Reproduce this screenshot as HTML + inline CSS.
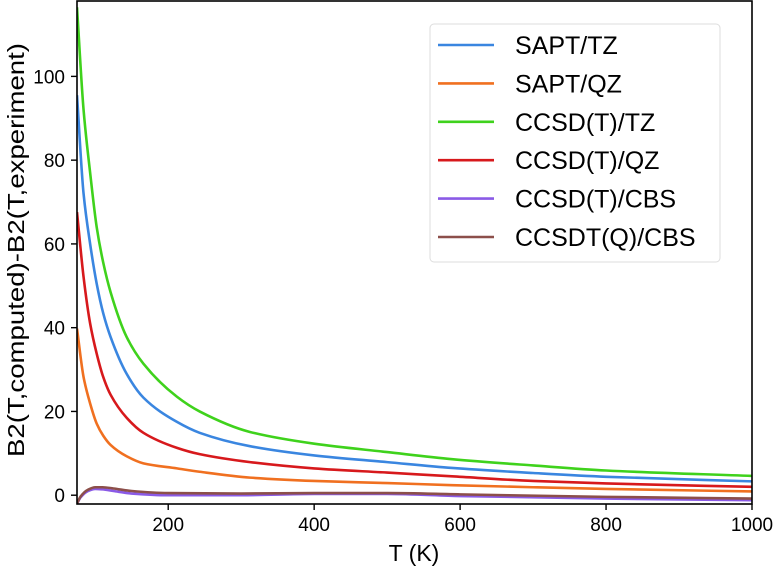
<!DOCTYPE html>
<html><head><meta charset="utf-8"><style>
body{margin:0;background:#fff;}
svg{display:block;font-family:"Liberation Sans",Arial,sans-serif;}
</style></head><body>
<svg id="chart" width="773" height="567" viewBox="0 0 773 567" xmlns="http://www.w3.org/2000/svg">
<rect width="773" height="567" fill="#fff"/>
<g id="plot"></g>
<g id="axes"></g>
<g id="legend"></g>
</svg>
<script>
const temps = [75, 84, 93, 102, 111, 121, 143, 166, 212, 243, 312, 400, 500, 589, 700, 800, 1000];
const ccsdt_tz = [116.5, 92, 77, 64, 55.5, 48.5, 37.8, 31.4, 23.5, 20.0, 15.1, 12.3, 10.3, 8.6, 7.1, 5.9, 4.6];
const sapt_tz = [95.5, 72, 60, 50.5, 43.4, 37.8, 29.0, 23.3, 17.5, 14.9, 11.7, 9.5, 7.9, 6.5, 5.3, 4.4, 3.3];
const ccsdt_qz = [67.6, 52.1, 41.0, 33.8, 28.2, 24.0, 18.5, 14.9, 11.3, 9.8, 7.9, 6.4, 5.4, 4.5, 3.4, 2.8, 2.0];
const sapt_qz = [39.8, 28.2, 21.9, 17.1, 14.2, 12.0, 9.3, 7.6, 6.4, 5.6, 4.2, 3.4, 2.9, 2.4, 1.9, 1.5, 0.9];
const cbsTemps = [75, 80, 90, 100, 110, 125, 150, 200, 300, 400, 500, 600, 800, 1000];
const ccsdt_cbs = [-2.0, -0.5, 1.0, 1.5, 1.4, 1.0, 0.4, 0.0, 0.0, 0.3, 0.3, -0.2, -0.8, -1.2];
const ccsdtq_cbs = [-2.0, -0.3, 1.3, 1.9, 1.9, 1.6, 1.0, 0.5, 0.4, 0.5, 0.5, 0.2, -0.4, -0.8];
const xTicks = [200, 400, 600, 800, 1000];
const yTicks = [0, 20, 40, 60, 80, 100];
const seriesNames = ["SAPT/TZ", "SAPT/QZ", "CCSD(T)/TZ", "CCSD(T)/QZ", "CCSD(T)/CBS", "CCSDT(Q)/CBS"];

const NS = "http://www.w3.org/2000/svg";
const L = 77, R = 752, T = 1, B = 504;
const xMin = 75, xMax = 1000, yMin = -2.1, yMax = 118;
const xs = v => L + (v - xMin) / (xMax - xMin) * (R - L);
const ys = v => B - (v - yMin) / (yMax - yMin) * (B - T);
function mk(tag, attrs, parent) { const e = document.createElementNS(NS, tag); for (const k in attrs) e.setAttribute(k, attrs[k]); parent.appendChild(e); return e; }

const plot = document.getElementById('plot');
const axes = document.getElementById('axes');
const legend = document.getElementById('legend');
const clip = mk('clipPath', {id: 'clip'}, plot);
mk('rect', {x: L, y: T, width: R - L, height: B - T}, clip);

function monoPath(xv, yv) {
  const px = xv.map(xs), py = yv.map(ys), n = px.length;
  const d = [], m = new Array(n);
  for (let i = 0; i < n - 1; i++) d.push((py[i + 1] - py[i]) / (px[i + 1] - px[i]));
  m[0] = d[0]; m[n - 1] = d[n - 2];
  for (let i = 1; i < n - 1; i++) {
    if (d[i - 1] * d[i] <= 0) m[i] = 0;
    else { const h0 = px[i] - px[i - 1], h1 = px[i + 1] - px[i]; const w1 = 2 * h1 + h0, w2 = h1 + 2 * h0; m[i] = (w1 + w2) / (w1 / d[i - 1] + w2 / d[i]); }
  }
  let s = `M${px[0]},${py[0]}`;
  for (let i = 0; i < n - 1; i++) {
    const h = (px[i + 1] - px[i]) / 3;
    s += ` C${px[i] + h},${py[i] + m[i] * h} ${px[i + 1] - h},${py[i + 1] - m[i + 1] * h} ${px[i + 1]},${py[i + 1]}`;
  }
  return s;
}
const series = [
  {x: temps, y: sapt_tz, c: "#3a86e0", n: "sapt-tz-line"},
  {x: temps, y: sapt_qz, c: "#f07020", n: "sapt-qz-line"},
  {x: temps, y: ccsdt_tz, c: "#3fd21c", n: "ccsdt-tz-line"},
  {x: temps, y: ccsdt_qz, c: "#d7191c", n: "ccsdt-qz-line"},
  {x: cbsTemps, y: ccsdt_cbs, c: "#8a5ae6", n: "ccsdt-cbs-line"},
  {x: cbsTemps, y: ccsdtq_cbs, c: "#8c4f4a", n: "ccsdtq-cbs-line"}
];
series.forEach(s => {
  const p = mk('path', {d: monoPath(s.x, s.y), fill: 'none', stroke: s.c, 'stroke-width': 2.6, 'clip-path': 'url(#clip)'}, plot);
  
  
});

const frame = mk('rect', {x: L, y: T, width: R - L, height: B - T, fill: 'none', stroke: '#000', 'stroke-width': 1.6}, axes);


xTicks.forEach(v => {
  const x = xs(v);
  mk('line', {x1: x, x2: x, y1: B, y2: B + 6, stroke: '#000', 'stroke-width': 1.4}, axes);
  const t = mk('text', {x: x, y: B + 27, 'text-anchor': 'middle', 'font-size': 19}, axes);
  t.textContent = v;
  
  
});
yTicks.forEach(v => {
  const y = ys(v);
  mk('line', {x1: L - 6, x2: L, y1: y, y2: y, stroke: '#000', 'stroke-width': 1.4}, axes);
  const t = mk('text', {x: L - 12, y: y + 7, 'text-anchor': 'end', 'font-size': 19}, axes);
  t.textContent = v;
  
  
});
const xl = mk('text', {x: 414, y: 561, 'text-anchor': 'middle', 'font-size': 23}, axes);
xl.textContent = 'T (K)';


const yl = mk('text', {x: 0, y: 0, 'text-anchor': 'middle', 'font-size': 23, transform: 'translate(24,250) rotate(-90)', textLength: 414, lengthAdjust: 'spacingAndGlyphs'}, axes);
yl.textContent = 'B2(T,computed)-B2(T,experiment)';



const lb = mk('rect', {x: 430, y: 24, width: 290, height: 238, rx: 4, fill: '#fff', stroke: '#ddd', 'stroke-width': 1}, legend);


seriesNames.forEach((name, i) => {
  const y = 45 + i * 38.4;
  const g = mk('g', {}, legend);
  
  
  mk('line', {x1: 438, x2: 494, y1: y, y2: y, stroke: series[i].c, 'stroke-width': 2.6}, g);
  const t = mk('text', {x: 515, y: y + 9, 'font-size': 25}, g);
  t.textContent = name;
});
</script>
</body></html>
